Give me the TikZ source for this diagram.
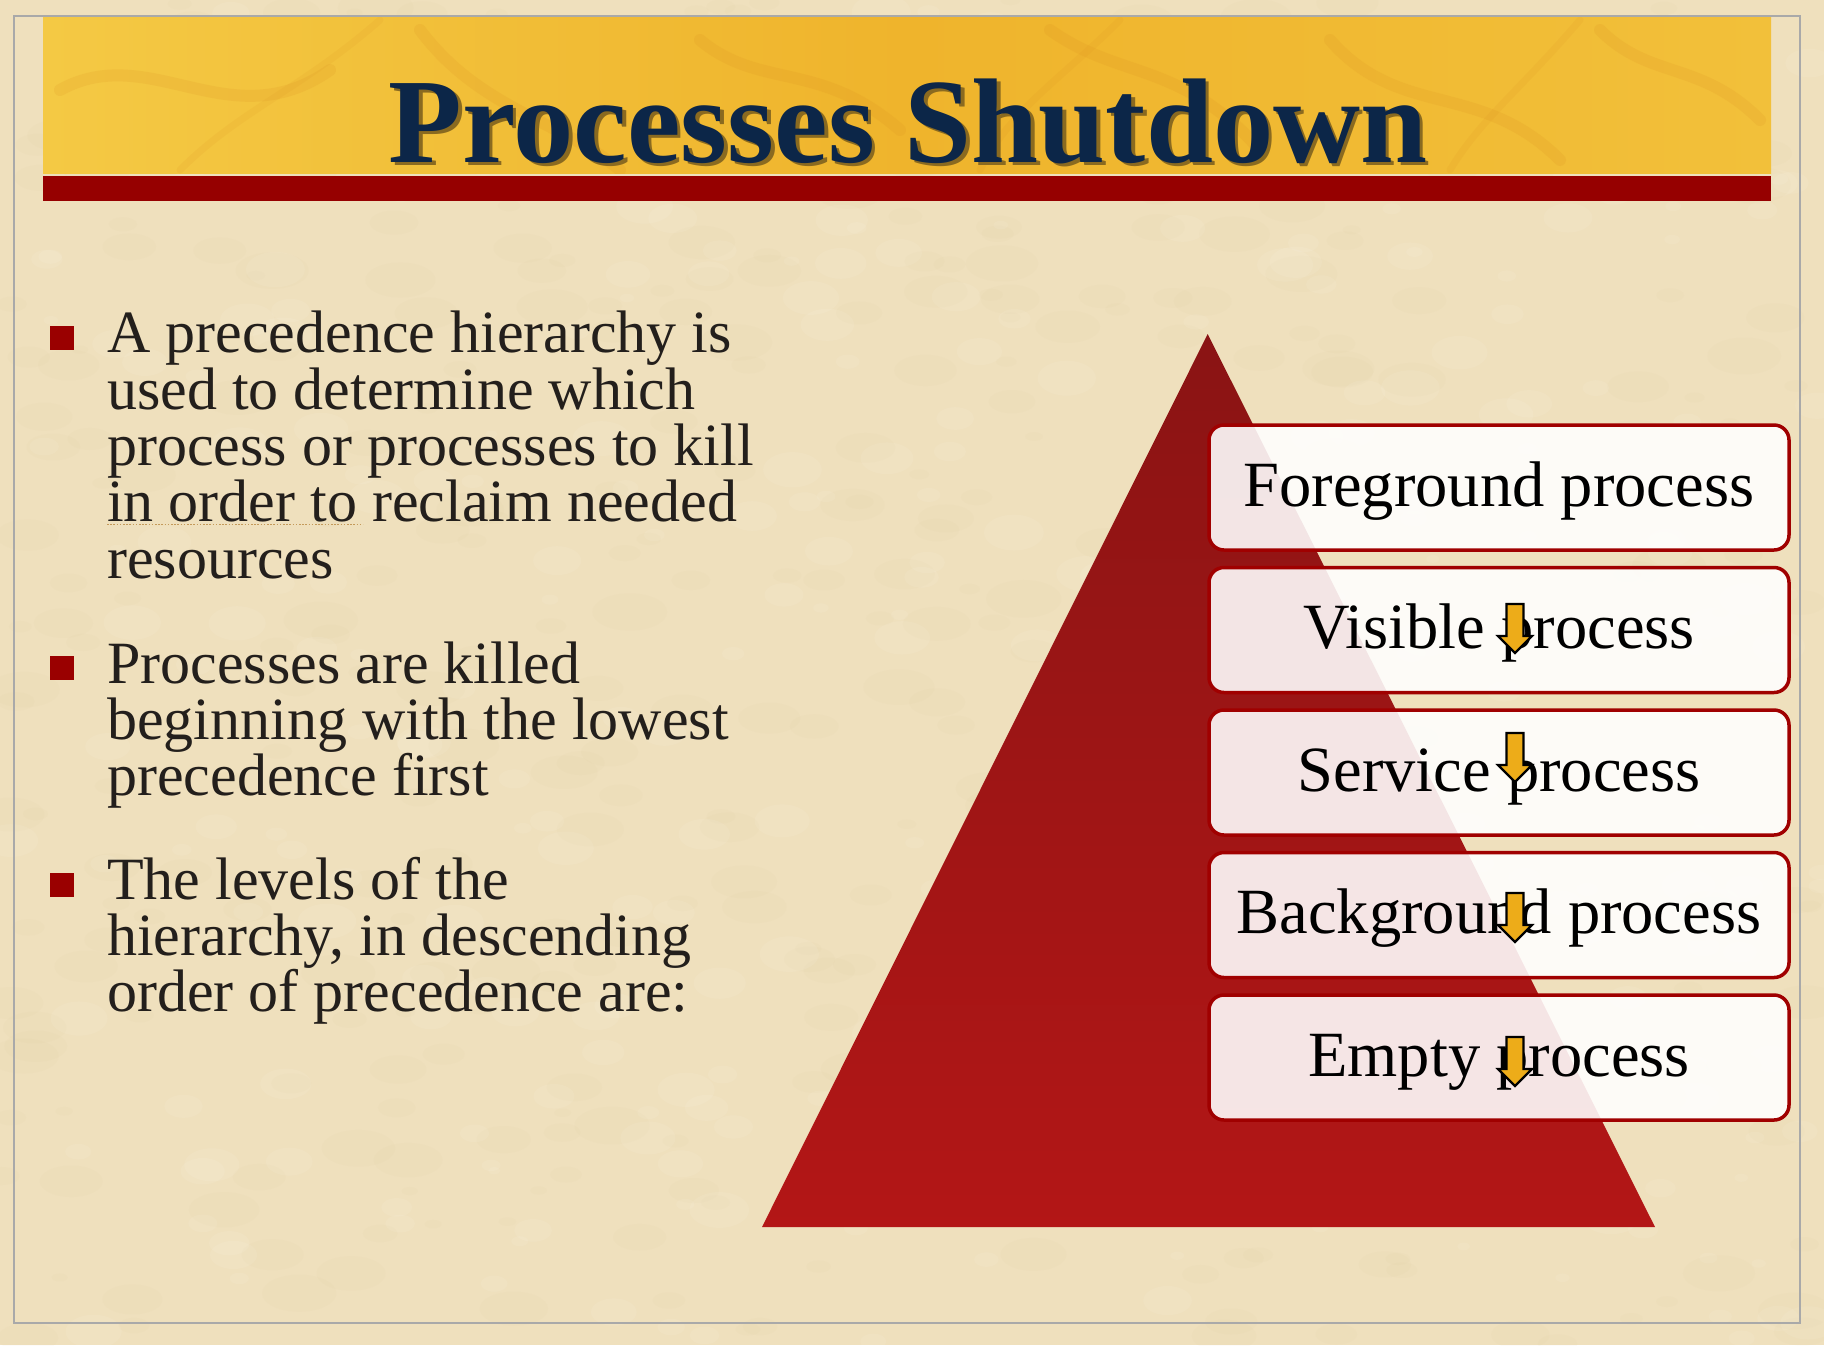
\documentclass[tikz,border=0pt]{standalone}
\usepackage{fontspec}
\setmainfont{Liberation Serif}
\usetikzlibrary{calc}

\definecolor{parch}{HTML}{EFE0BD}
\definecolor{parchdark}{HTML}{D9C394}
\definecolor{framegray}{HTML}{A9A9A9}
\definecolor{goldA}{HTML}{F4C944}
\definecolor{goldB}{HTML}{EFB42C}
\definecolor{goldC}{HTML}{F2C03A}
\definecolor{streak}{HTML}{D98A1E}
\definecolor{barred}{HTML}{960000}
\definecolor{navy}{HTML}{0C2648}
\definecolor{titleshade}{HTML}{8A6A20}
\definecolor{inkgray}{HTML}{231F1C}
\definecolor{bulletred}{HTML}{9A0000}
\definecolor{triTop}{HTML}{8A1414}
\definecolor{triBot}{HTML}{B31616}
\definecolor{boxedge}{HTML}{A00000}
\definecolor{arrowgold}{HTML}{EDAC19}
\definecolor{squiggle}{HTML}{C49A5A}

% title text carrying its own soft drop shadow
\newcommand{\shadowedtitle}[1]{%
  \makebox[0pt][l]{\hspace*{3.5pt}\raisebox{-3.5pt}{\color{titleshade}#1}}#1}

\tikzset{
  titletext/.style={font=\fontsize{120.5}{120}\selectfont\bfseries, text=navy, inner sep=0pt},
  bodyline/.style={font=\fontsize{60}{56}\selectfont, text=inkgray, inner sep=0pt, anchor=base west},
  bulletsq/.style={fill=bulletred, minimum size=24pt, inner sep=0pt},
  levelbox/.style={draw=boxedge, line width=3.5pt, rounded corners=15pt,
    fill=white, fill opacity=0.89, text opacity=1,
    minimum width=580pt, minimum height=125pt, inner sep=0pt,
    text height=47pt, text depth=10pt,
    font=\fontsize{64.5}{64}\selectfont, text=black},
  goldarrow/.style={fill=arrowgold, draw=black, line width=2.2pt, line join=miter},
}

\begin{document}
\begin{tikzpicture}[x=1pt,y=-1pt]
\useasboundingbox (0,0) rectangle (1824,1345);

% parchment ground with a fine mottle
\fill[parch] (0,0) rectangle (1824,1345);
\pgfmathsetseed{11}
\foreach \i in {1,...,420}{
  \pgfmathsetmacro\xx{rnd*1824}
  \pgfmathsetmacro\yy{rnd*1345}
  \pgfmathsetmacro\rr{8+rnd*30}
  \fill[parchdark, opacity=0.06] (\xx,\yy) ellipse ({\rr} and {0.5*\rr});
}
\foreach \i in {1,...,320}{
  \pgfmathsetmacro\xx{rnd*1824}
  \pgfmathsetmacro\yy{rnd*1345}
  \pgfmathsetmacro\rr{6+rnd*24}
  \fill[white, opacity=0.07] (\xx,\yy) ellipse ({\rr} and {0.6*\rr});
}

% slide frame
\draw[framegray, line width=2.5pt] (14,16) rectangle (1800,1323);

% golden title banner
\shade[left color=goldA, right color=goldC, middle color=goldB] (43,17) rectangle (1771,173);
\begin{scope}
  \clip (43,17) rectangle (1771,173);
  \draw[streak, opacity=0.14, line width=12pt, line cap=round]
    (60,90) .. controls (150,40) and (230,140) .. (330,70)
    (420,30) .. controls (480,110) and (560,120) .. (620,170)
    (700,40) .. controls (760,90) and (820,60) .. (900,130)
    (1050,30) .. controls (1120,80) and (1180,60) .. (1260,150)
    (1330,40) .. controls (1400,120) and (1480,80) .. (1560,160)
    (1600,30) .. controls (1650,80) and (1700,60) .. (1760,120);
  \draw[streak, opacity=0.10, line width=7pt, line cap=round]
    (180,170) .. controls (240,110) and (300,90) .. (380,20)
    (980,170) .. controls (1010,110) and (1060,80) .. (1120,20)
    (1450,170) .. controls (1480,120) and (1520,90) .. (1580,20);
\end{scope}

% dark red rule under the banner
\fill[barred] (43,176) rectangle (1771,201);

% title
\node[titletext, anchor=base] (title) at (908,162) {\shadowedtitle{Processes Shutdown}};

% bullet list
\node[bulletsq] (bul1) at (62,338) {};
\node[bulletsq] (bul2) at (62,668) {};
\node[bulletsq] (bul3) at (62,885) {};

\node[bodyline] (p1l1) at (107,352) {A precedence hierarchy is};
\node[bodyline] (p1l2) at (107,409) {used to determine which};
\node[bodyline] (p1l3) at (107,465) {process or processes to kill};
\node[bodyline] (p1l4) at (107,521) {in order to reclaim needed};
\node[bodyline] (p1l5) at (107,578) {resources};
\draw[squiggle, line width=1.6pt, dash pattern=on 1.6pt off 1.6pt] (107,524.5) -- (363,524.5);

\node[bodyline] (p2l1) at (107,683) {Processes are killed};
\node[bodyline] (p2l2) at (107,739) {beginning with the lowest};
\node[bodyline] (p2l3) at (107,795) {precedence first};

\node[bodyline] (p3l1) at (107,899) {The levels of the};
\node[bodyline] (p3l2) at (107,955) {hierarchy, in descending};
\node[bodyline] (p3l3) at (107,1011) {order of precedence are:};

% pyramid
\shade[top color=triTop, bottom color=triBot] (1207.7,334) -- (1655,1227) -- (762,1227) -- cycle;

% hierarchy levels
\node[levelbox] (lv1) at (1499,487.5) {Foreground process};
\node[levelbox] (lv2) at (1499,630) {Visible process};
\node[levelbox] (lv3) at (1499,772.5) {Service process};
\node[levelbox] (lv4) at (1499,915) {Background process};
\node[levelbox] (lv5) at (1499,1057.5) {Empty process};

% small down arrows
\foreach \t in {604,733,893,1037}{
  \draw[goldarrow] (1506.5,\t) -- (1523.5,\t) -- (1523.5,{\t+32}) -- (1532,{\t+32})
    -- (1515,{\t+49}) -- (1498,{\t+32}) -- (1506.5,{\t+32}) -- cycle;
}
\end{tikzpicture}
\end{document}
